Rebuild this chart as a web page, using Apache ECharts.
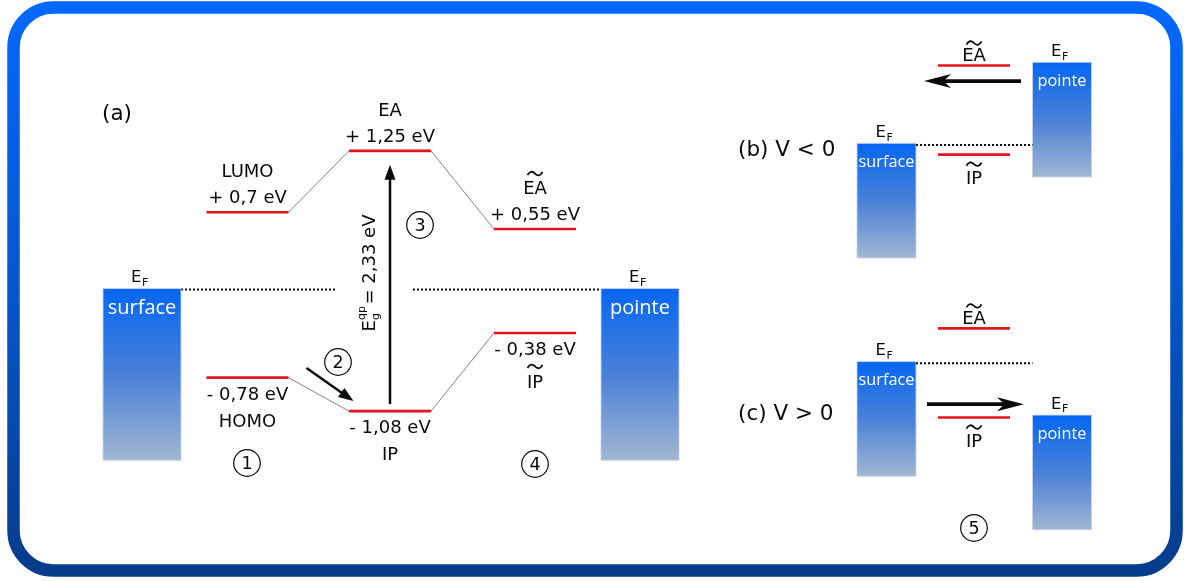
<!DOCTYPE html>
<html><head><meta charset="utf-8">
<script src="https://cdn.jsdelivr.net/npm/echarts@6/dist/echarts.min.js"></script>
<style>html,body{margin:0;padding:0;background:#fff}#c{width:1184px;height:581px}</style>
</head><body><div id="c"></div>
<script>
// ================= DATA =================
// Panel (a): molecular levels, energies in eV relative to E_F
const levelNames   = ['LUMO', 'HOMO', 'EA', 'IP', 'EA', 'IP'];
const levelTilde   = [false, false, false, false, true, true];
const levelColumn  = [1, 1, 2, 2, 3, 3];
const levelEnergy  = [0.70, -0.78, 1.25, -1.08, 0.55, -0.38];
const levelText    = ['+ 0,7 eV', '- 0,78 eV', '+ 1,25 eV', '- 1,08 eV', '+ 0,55 eV', '- 0,38 eV'];
const connections  = [[0, 2], [2, 4], [1, 3], [3, 5]];     // level index pairs joined by thin lines
const gapFrom = 3, gapTo = 2;                              // IP -> EA
const gapSymbol = ['E', 'g', 'qp'];                        // main, subscript, superscript
const gapValueText = '= 2,33 eV';
const electrodeNames  = ['surface', 'pointe'];
const electrodeFermi  = [0, 0];
const fermiText = ['E', 'F'];
const panelTitles = ['(a)', '(b) V < 0', '(c) V > 0'];
// Panels (b), (c): schematic energies (eV) relative to the surface E_F
const biasSurfFermi = [0, 0];
const biasTipFermi  = [1.09, -0.72];
const biasEA        = [1.07, 0.47];
const biasIP        = [-0.13, -0.73];
const biasTunnel    = [0.86, -0.55];
const biasDirection = [-1, 1];
const stepLabels = ['1', '2', '3', '4', '5'];

// ================= LAYOUT / STYLE =================
const W = 1184, H = 581;
const A = {zero: 291, scale: 112, min: -2.6, max: 2.6};
const BCS = {scale: 74.3, min: -2.3, max: 1.9, zero: [145, 363.3]};
const colX = [142, 247.5, 390, 535, 640];
const elecCol = [0, 4];
const LEVEL_HW = 41, ELEC_HW = 39, BAND_DEPTH = 1.52;
const BC = {surfX: 886.5, tipX: 1062, elecHW: 29.5, levelX: 974, levelHW: 36};
const INK = '#0a0a0a', RED = '#e3141b';
const FONT = '"DejaVu Sans", Verdana, sans-serif';
const FONT2 = '"Open Sans", "Noto Sans", sans-serif';
const FS = 18;
const TY = 2.5;   // optical correction: centre of capitals vs. em-box middle
const stepPos = [[247, 463], [338, 362], [420, 225], [535, 464], [974, 528]];

function txt(x, y, s, size, o) {
  o = o || {};
  const al = o.align || 'center', va = o.va || 'middle';
  const rot = o.rot || 0;
  const px = rot ? x + TY * 0.8 : x, py = rot ? y : y + TY;
  return {type: 'text', x: px, y: py, rotation: rot, z2: 5,
    style: {text: s, fill: o.color || INK, font: size + 'px ' + (o.family || FONT),
      align: al, verticalAlign: va, textAlign: al, textVerticalAlign: va}};
}
function tilde(cx, cy) {
  const d = 'M' + (cx - 7.5) + ',' + (cy + 1.6) + ' C' + (cx - 5.5) + ',' + (cy - 2.6) + ' ' + (cx - 2.5) + ',' + (cy - 2.6) + ' ' + cx + ',' + cy +
            ' C' + (cx + 2.5) + ',' + (cy + 2.6) + ' ' + (cx + 5.5) + ',' + (cy + 2.6) + ' ' + (cx + 7.5) + ',' + (cy - 1.6);
  return {type: 'path', shape: {pathData: d}, style: {stroke: INK, lineWidth: 1.8, fill: null}};
}
function hline(x1, x2, y, color, lw, dash) {
  return {type: 'line', shape: {x1: x1, y1: y, x2: x2, y2: y},
    style: {stroke: color, lineWidth: lw, lineDash: dash || null}};
}
function arrow(x1, y1, x2, y2, lw, hl, hh, notch) {
  const dx = x2 - x1, dy = y2 - y1, L = Math.hypot(dx, dy), ux = dx / L, uy = dy / L;
  const bx = x2 - ux * hl, by = y2 - uy * hl;
  const pts = [[x2, y2], [bx - uy * hh, by + ux * hh]];
  if (notch) pts.push([x2 - ux * hl * notch, y2 - uy * hl * notch]);
  pts.push([bx + uy * hh, by - ux * hh]);
  const stop = notch ? hl * notch : hl - 1;
  return [
    {type: 'line', shape: {x1: x1, y1: y1, x2: x2 - ux * stop, y2: y2 - uy * stop}, style: {stroke: INK, lineWidth: lw}},
    {type: 'polygon', shape: {points: pts}, style: {fill: INK}}
  ];
}
function bandGrad() {
  return new echarts.graphic.LinearGradient(0, 0, 0, 1, [
    {offset: 0, color: '#0566f2'}, {offset: 0.5, color: '#4a80d8'}, {offset: 1, color: '#a2b7d2'}]);
}
function fermiLabel(cx, top) {
  return [txt(cx - 0.5, top - 13, fermiText[0], 16.5, {align: 'right'}),
          txt(cx, top - 8, fermiText[1], 11, {align: 'left'})];
}
function electrode(cx, hw, top, bottom, name, nameSize, nameOff) {
  return [
    {type: 'rect', shape: {x: cx - hw, y: top, width: 2 * hw, height: bottom - top},
     style: {fill: bandGrad(), stroke: 'rgba(195,212,235,0.9)', lineWidth: 1}},
    txt(cx, top + nameOff, name, nameSize, {color: '#fff', family: FONT2})
  ].concat(fermiLabel(cx, top));
}

// ---------- panel (a) renderers ----------
function renderElectrodeA(params, api) {
  const i = params.dataIndex;
  const top = api.coord([api.value(0), api.value(1)]);
  const bot = api.coord([api.value(0), api.value(1) - BAND_DEPTH]);
  return {type: 'group', children: electrode(top[0], ELEC_HW, top[1] - 2, bot[1], electrodeNames[i], 20, 17)};
}
function renderFermiA(params, api) {
  const ef = api.value(0);
  const pS = api.coord([colX[elecCol[0]], ef]), pT = api.coord([colX[elecCol[1]], ef]);
  const gapL = colX[2] - 55, gapR = colX[2] + 23, y = pS[1] - 1;
  return {type: 'group', children: [
    hline(pS[0] + ELEC_HW, gapL, y, INK, 2, [2, 2]),
    hline(gapR, pT[0] - ELEC_HW, y, INK, 2, [2, 2])
  ]};
}
function renderConnector(params, api) {
  const p1 = api.coord([api.value(0), api.value(1)]);
  const p2 = api.coord([api.value(2), api.value(3)]);
  return {type: 'line', shape: {x1: p1[0] + LEVEL_HW, y1: p1[1], x2: p2[0] - LEVEL_HW, y2: p2[1]},
    style: {stroke: '#666', lineWidth: 0.8}};
}
function renderLevelA(params, api) {
  const i = params.dataIndex;
  const p = api.coord([api.value(0), api.value(1)]);
  const up = api.value(1) > 0;
  const ch = [hline(p[0] - LEVEL_HW, p[0] + LEVEL_HW, p[1], RED, 2.6)];
  const valY = up ? p[1] - 16 : p[1] + 15;
  const nameY = up ? p[1] - 42 : p[1] + (levelTilde[i] ? 47.5 : 42);
  ch.push(txt(p[0], valY, levelText[i], FS));
  ch.push(txt(p[0], nameY, levelNames[i], FS));
  if (levelTilde[i]) ch.push(tilde(p[0], nameY - (up ? 13.5 : 14)));
  return {type: 'group', children: ch};
}
function renderGap(params, api) {
  const pB = api.coord([api.value(0), api.value(1)]);
  const pT = api.coord([api.value(0), api.value(2)]);
  const x = pB[0], y1 = pB[1] - 7, y2 = pT[1] + 14;
  const mid = (y1 + y2) / 2, tx = x - 22, R = Math.PI / 2;
  return {type: 'group', children: arrow(x, y1, x, y2, 2.5, 15, 5.5).concat([
    txt(tx, mid + 47, gapSymbol[0], FS, {align: 'left', rot: R}),
    txt(tx + 6.5, mid + 35.5, gapSymbol[1], 11, {align: 'left', rot: R}),
    txt(tx - 7.5, mid + 35.5, gapSymbol[2], 11, {align: 'left', rot: R}),
    txt(tx, mid + 20, gapValueText, FS, {align: 'left', rot: R})
  ])};
}

// ---------- panels (b), (c) ----------
function makeBiasRender(k) {
  return function (params, api) {
    const sE = api.value(0), tE = api.value(1);
    const sTop = api.coord([BC.surfX, sE]), sBot = api.coord([BC.surfX, sE - BAND_DEPTH]);
    const tTop = api.coord([BC.tipX, tE]), tBot = api.coord([BC.tipX, tE - BAND_DEPTH]);
    const ea = api.coord([BC.levelX, api.value(2)]);
    const ip = api.coord([BC.levelX, api.value(3)]);
    const tun = api.coord([BC.levelX, api.value(4)]);
    const dir = biasDirection[k];
    let ch = [];
    ch = ch.concat(electrode(BC.surfX, BC.elecHW, sTop[1] - 1.7, sBot[1], electrodeNames[0], 16.3, 16.5));
    ch = ch.concat(electrode(BC.tipX, BC.elecHW, tTop[1] - 1.7, tBot[1], electrodeNames[1], 16.3, 16.5));
    ch.push(hline(BC.surfX + BC.elecHW, BC.tipX - BC.elecHW, sTop[1], INK, 2, [2, 2]));
    ch.push(hline(BC.levelX - BC.levelHW, BC.levelX + BC.levelHW, ea[1], RED, 2.6));
    ch.push(hline(BC.levelX - BC.levelHW, BC.levelX + BC.levelHW, ip[1], RED, 2.6));
    ch.push(txt(BC.levelX, ea[1] - 11.5, levelNames[4], FS));
    ch.push(tilde(BC.levelX, ea[1] - 22.5));
    ch.push(txt(BC.levelX, ip[1] + 22, levelNames[5], FS));
    ch.push(tilde(BC.levelX, ip[1] + 9.5));
    ch = ch.concat(arrow(BC.levelX - dir * 47, tun[1], BC.levelX + dir * 50, tun[1], 3.6, 27, 7, 0.72));
    return {type: 'group', children: ch};
  };
}

// ---------- axes / grids ----------
const grids = [
  {left: 0, width: W, top: A.zero - A.max * A.scale, height: (A.max - A.min) * A.scale},
  {left: 0, width: W, top: BCS.zero[0] - BCS.max * BCS.scale, height: (BCS.max - BCS.min) * BCS.scale},
  {left: 0, width: W, top: BCS.zero[1] - BCS.max * BCS.scale, height: (BCS.max - BCS.min) * BCS.scale}
];
const xAxes = [0, 1, 2].map(g => ({type: 'value', gridIndex: g, min: 0, max: W, show: false}));
const yAxes = [
  {type: 'value', gridIndex: 0, min: A.min, max: A.max, show: false},
  {type: 'value', gridIndex: 1, min: BCS.min, max: BCS.max, show: false},
  {type: 'value', gridIndex: 2, min: BCS.min, max: BCS.max, show: false}
];

function cs(g, data, render) {
  return {type: 'custom', xAxisIndex: g, yAxisIndex: g, clip: false, silent: true,
    data: data, renderItem: render};
}
const series = [
  cs(0, [[electrodeFermi[0]]], renderFermiA),
  cs(0, electrodeNames.map((n, i) => [colX[elecCol[i]], electrodeFermi[i]]), renderElectrodeA),
  cs(0, connections.map(c => [colX[levelColumn[c[0]]], levelEnergy[c[0]], colX[levelColumn[c[1]]], levelEnergy[c[1]]]), renderConnector),
  cs(0, levelEnergy.map((e, i) => [colX[levelColumn[i]], e]), renderLevelA),
  cs(0, [[colX[levelColumn[gapFrom]], levelEnergy[gapFrom], levelEnergy[gapTo]]], renderGap),
  cs(1, [[biasSurfFermi[0], biasTipFermi[0], biasEA[0], biasIP[0], biasTunnel[0]]], makeBiasRender(0)),
  cs(2, [[biasSurfFermi[1], biasTipFermi[1], biasEA[1], biasIP[1], biasTunnel[1]]], makeBiasRender(1))
];

// ---------- annotations ----------
function gtxt(x, y, s, size, align) {
  return {type: 'text', x: x, y: y + TY, z: 10,
    style: {text: s, fill: INK, font: size + 'px ' + FONT, align: align, verticalAlign: 'middle',
      textAlign: align, textVerticalAlign: 'middle'}};
}
const graphic = [
  {type: 'rect', z: -10, shape: {x: 13.5, y: 7.5, width: 1163, height: 563, r: 40},
   style: {fill: '#fff', lineWidth: 12.5,
     stroke: new echarts.graphic.LinearGradient(0, 0, 0, 1, [{offset: 0, color: '#0268fe'}, {offset: 0.5, color: '#0656cc'}, {offset: 1, color: '#053c8a'}])}},
  gtxt(117, 112, panelTitles[0], 21.5, 'center'),
  gtxt(738, 148, panelTitles[1], 21.5, 'left'),
  gtxt(738, 412, panelTitles[2], 21.5, 'left')
];
stepLabels.forEach((s, i) => {
  graphic.push({type: 'circle', z: 10, shape: {cx: stepPos[i][0], cy: stepPos[i][1], r: 13.3},
    style: {fill: null, stroke: INK, lineWidth: 1.2}});
  graphic.push(gtxt(stepPos[i][0], stepPos[i][1] - 1, s, 17.5, 'center'));
});
// step (2) transfer arrow
arrow(306.5, 368, 353.5, 401, 2.5, 15, 5.5).forEach(e => { e.z = 10; graphic.push(e); });

const chart = echarts.init(document.getElementById('c'), null, {renderer: 'canvas', width: W, height: H});
chart.setOption({
  animation: false,
  backgroundColor: '#fff',
  grid: grids, xAxis: xAxes, yAxis: yAxes,
  series: series,
  graphic: graphic
});
</script></body></html>
